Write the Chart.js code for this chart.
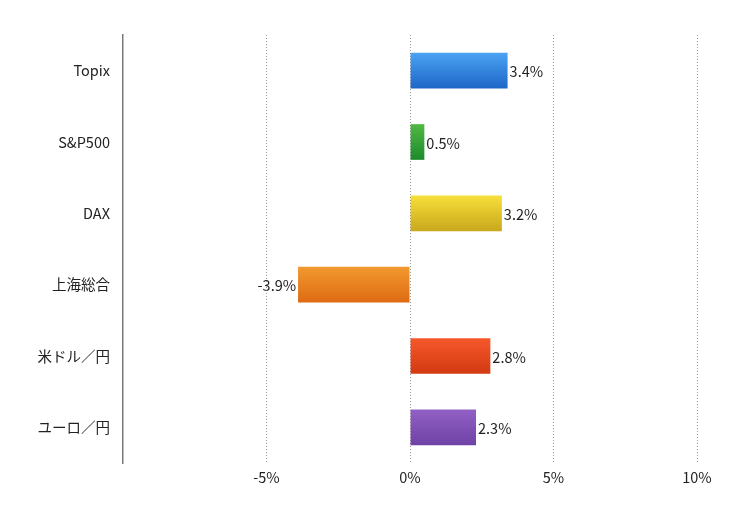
<!DOCTYPE html>
<html>
<head>
<meta charset="utf-8">
<script src="https://cdn.jsdelivr.net/npm/chart.js@4.4.1/dist/chart.umd.min.js"></script>
<style>
html,body{margin:0;padding:0;background:#fff;}
#wrap{width:750px;height:516px;position:relative;}
</style>
</head>
<body>
<div id="wrap"><canvas id="c" width="750" height="516"></canvas></div>
<script>
const categories = ["Topix", "S&P500", "DAX", "上海総合", "米ドル／円", "ユーロ／円"];
const values = [3.4, 0.5, 3.2, -3.9, 2.8, 2.3];
const topColors = ["#4ba3f2", "#52b844", "#f7e03a", "#f29a30", "#f5582a", "#9260c4"];
const bottomColors = ["#1d66c8", "#1c8a2c", "#c9a71c", "#de6a12", "#d33a12", "#6f42a6"];
const xMin = -10, xMax = 10, xStep = 5;

const FONT = '"Noto Sans CJK JP", "Noto Sans", sans-serif';

function barGradient(ctx) {
  const chart = ctx.chart;
  const i = ctx.dataIndex;
  const yS = chart.scales.y;
  if (!yS || !chart.chartArea || i === undefined) return topColors[i || 0];
  const yc = yS.getPixelForValue(i);
  const g = chart.ctx.createLinearGradient(0, yc - 18, 0, yc + 18);
  g.addColorStop(0, topColors[i]);
  g.addColorStop(1, bottomColors[i]);
  return g;
}

const valueLabels = {
  id: 'valueLabels',
  afterDatasetsDraw(chart) {
    const c = chart.ctx;
    const meta = chart.getDatasetMeta(0);
    c.save();
    c.font = '14.5px ' + FONT;
    c.fillStyle = '#222';
    c.textBaseline = 'middle';
    meta.data.forEach((el, i) => {
      const v = values[i];
      const txt = v.toFixed(1) + '%';
      if (v >= 0) { c.textAlign = 'left'; c.fillText(txt, el.x + 2, el.y + 1); }
      else { c.textAlign = 'right'; c.fillText(txt, el.x - 2, el.y + 1); }
    });
    c.restore();
  }
};

new Chart(document.getElementById('c'), {
  type: 'bar',
  data: {
    labels: categories,
    datasets: [{
      data: values,
      backgroundColor: barGradient,
      borderWidth: 0,
      barPercentage: 0.5,
      categoryPercentage: 1.0
    }]
  },
  options: {
    indexAxis: 'y',
    responsive: false,
    animation: false,
    devicePixelRatio: 1,
    layout: { padding: { top: 35, right: 53, bottom: 0, left: 0 } },
    plugins: { legend: { display: false }, tooltip: { enabled: false } },
    scales: {
      x: {
        min: xMin, max: xMax,
        afterFit(s) { s.height = 53; },
        border: { display: false, dash: [1, 2] },
        grid: {
          color: (ctx) => ctx.tick && ctx.tick.value === xMin ? 'rgba(0,0,0,0)' : 'rgba(120,120,120,0.75)',
          lineWidth: 1,
          drawTicks: false,
          z: 1
        },
        ticks: {
          stepSize: xStep,
          padding: 6,
          color: '#222',
          font: { family: FONT, size: 14.5 },
          callback: (v) => v === xMin ? '' : v + '%'
        }
      },
      y: {
        afterFit(s) { s.width = 123; },
        border: { display: true, color: '#7a7a7a', width: 1.5 },
        grid: { display: false, drawTicks: false },
        ticks: {
          padding: 13,
          color: '#222',
          font: { family: FONT, size: 14.5 }
        }
      }
    }
  },
  plugins: [valueLabels]
});
</script>
</body>
</html>
